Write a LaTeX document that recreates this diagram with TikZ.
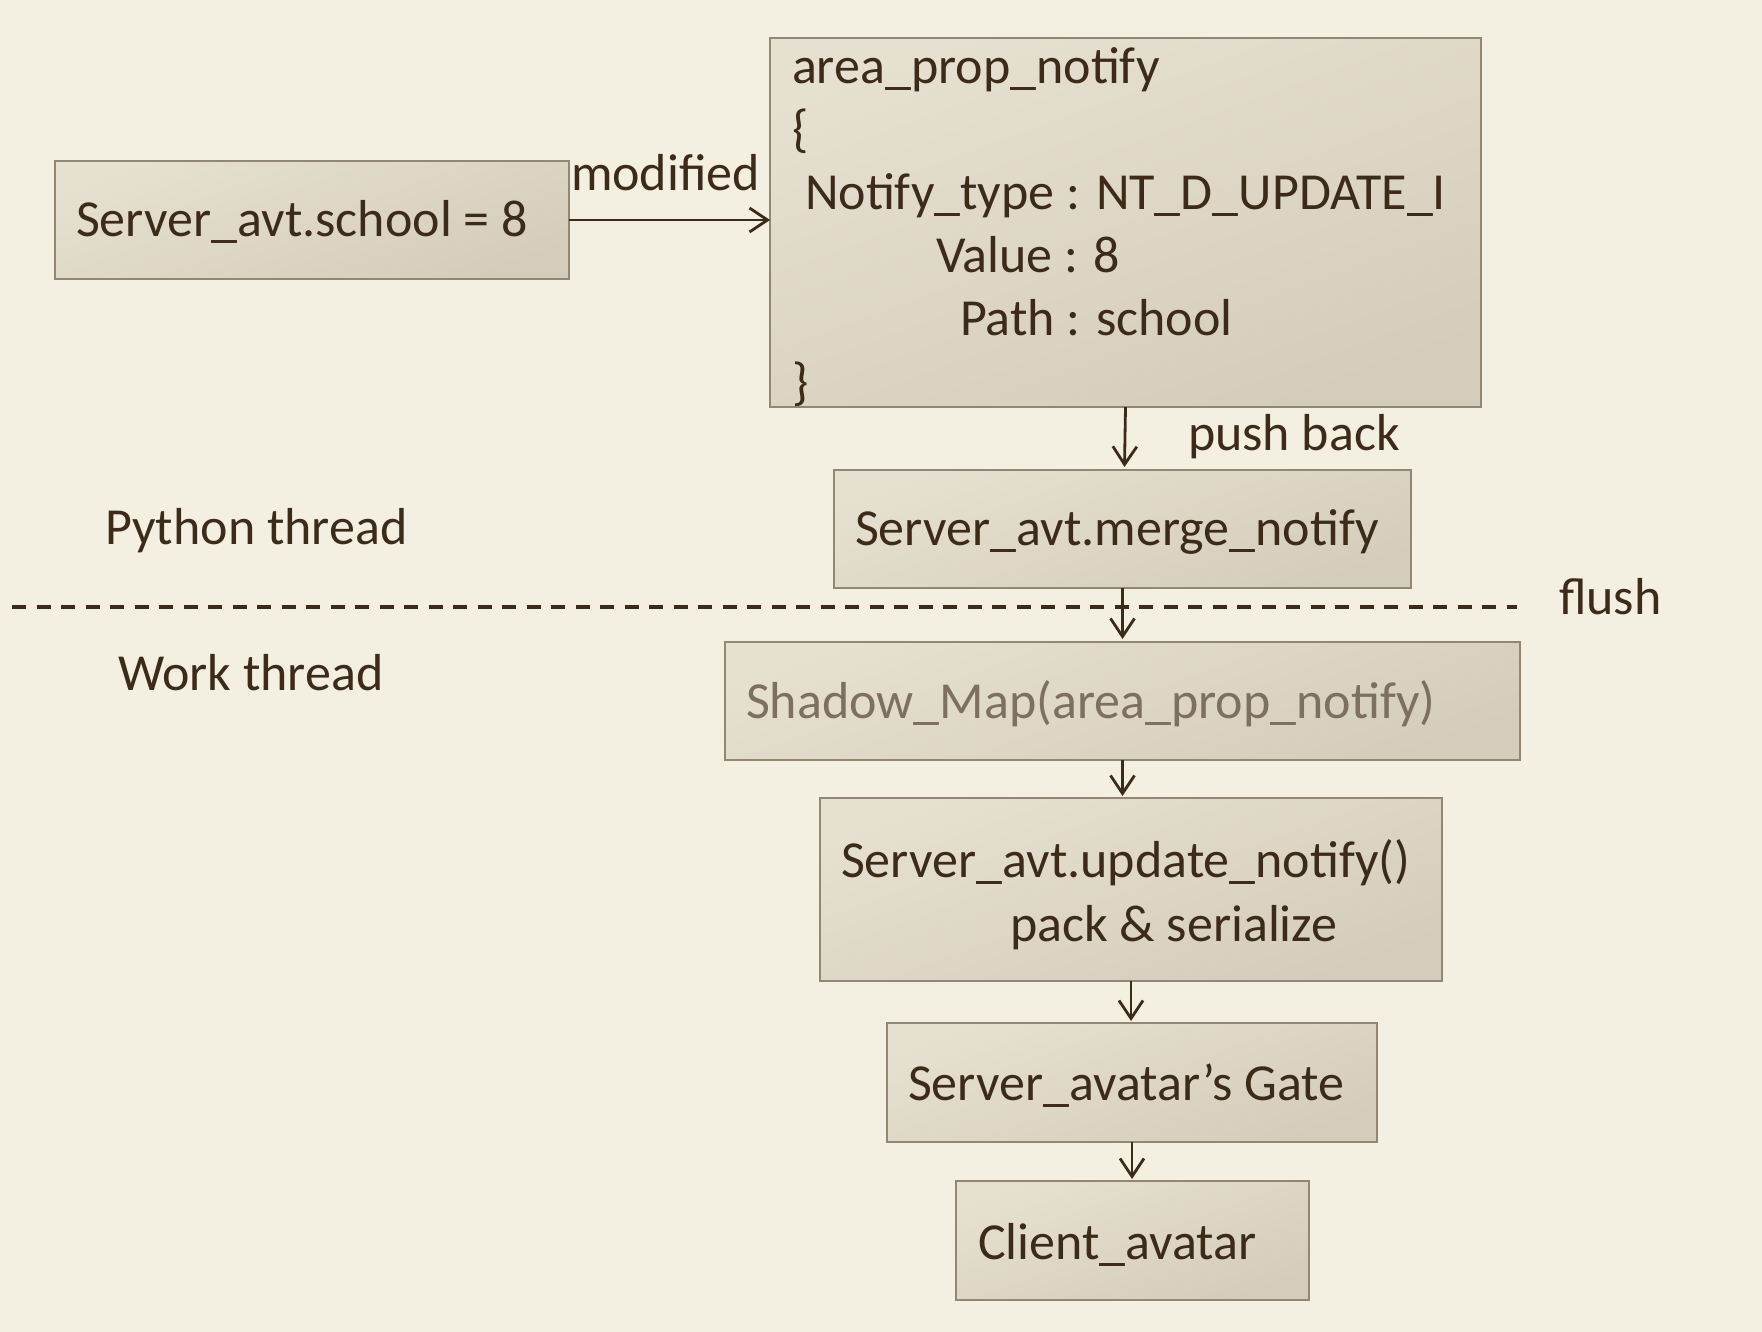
\documentclass[tikz,border=0pt]{standalone}
\usepackage{fontspec}
\setmainfont{Carlito}
\usetikzlibrary{arrows.meta}
\definecolor{bg}{HTML}{F4F0E1}
\definecolor{boxtop}{HTML}{E6E0D0}
\definecolor{boxbot}{HTML}{D5CDBB}
\definecolor{boxline}{HTML}{928773}
\definecolor{ink}{HTML}{3D2B1A}
\definecolor{grayink}{HTML}{7D7060}
\tikzset{
  box/.style={rectangle, draw=boxline, line width=2.8pt, top color=boxtop, bottom color=boxbot, shading angle=20, inner sep=0pt, outer sep=0pt},
  txt/.style={anchor=base west, inner sep=0pt, outer sep=0pt, text=ink, font=\fontsize{52}{63}\selectfont},
  arr/.style={draw=ink, line width=2.8pt, -{Straight Barb[length=18pt,width=24pt,line width=2.8pt]}},
  sep/.style={draw=ink, line width=4.5pt, dash pattern=on 14pt off 10.5pt}
}
\begin{document}
\begin{tikzpicture}[x=1pt,y=-1pt]
\useasboundingbox (0,0) rectangle (1762,1332);
\fill[bg] (0,0) rectangle (1762,1332);
% boxes
\node[box, minimum width=514pt, minimum height=118pt] (b1) at (312,220) {};
\node[box, minimum width=711pt, minimum height=369pt] (b2) at (1125.5,222.5) {};
\node[box, minimum width=577pt, minimum height=118pt] (b3) at (1122.5,529) {};
\node[box, minimum width=795pt, minimum height=118pt] (b4) at (1122.5,701) {};
\node[box, minimum width=622pt, minimum height=183pt] (b5) at (1131,889.5) {};
\node[box, minimum width=490pt, minimum height=119pt] (b6) at (1132,1082.5) {};
\node[box, minimum width=353pt, minimum height=119pt] (b7) at (1132.5,1240.5) {};
% texts
\node[txt] (t1) at (76,237) {Server\_avt.school = 8};
\node[txt] (lmod) at (571,191) {modified};
\node[txt] (t2a) at (792,84) {area\_prop\_notify};
\node[txt] (t2b) at (792,147) {\{};
\node[txt] (t2c) at (805,210) {Notify\_type : NT\_D\_UPDATE\_I};
\node[txt] (t2d) at (936,273) {Value : 8};
\node[txt] (t2e) at (960,336) {Path : school};
\node[txt] (t2f) at (792,399) {\}};
\node[txt] (lpush) at (1188,450) {push back};
\node[txt] (t3) at (855,545) {Server\_avt.merge\_notify};
\node[txt] (lpy) at (105,544) {Python thread};
\node[txt] (lflush) at (1559,614) {flush};
\node[txt] (lwork) at (118,690) {Work thread};
\node[txt, text=grayink] (t4) at (746,718) {Shadow\_Map(area\_prop\_notify)};
\node[txt] (t5a) at (841,877) {Server\_avt.update\_notify()};
\node[txt] (t5b) at (1010,941) {pack \& serialize};
\node[txt] (t6) at (908,1100) {Server\_avatar’s Gate};
\node[txt] (t7) at (978,1259) {Client\_avatar};
% separator
\coordinate (sepL) at (12,607);
\coordinate (sepR) at (1517,607);
\draw[sep] (sepL) -- (sepR);
% connectors
\draw[arr] (b1.east) -- (b1.east -| b2.west);
\draw[arr] (b2.south) -- ([xshift=2pt,yshift=3pt]b3.north);
\draw[arr] (b3.south) -- ([yshift=3pt]b4.north);
\draw[arr] (b4.south) -- ([yshift=2pt]b4.south |- b5.north);
\draw[arr] (b5.south) -- ([yshift=2pt]b5.south |- b6.north);
\draw[arr] (b6.south) -- ([yshift=2pt]b6.south |- b7.north);
\end{tikzpicture}
\end{document}
